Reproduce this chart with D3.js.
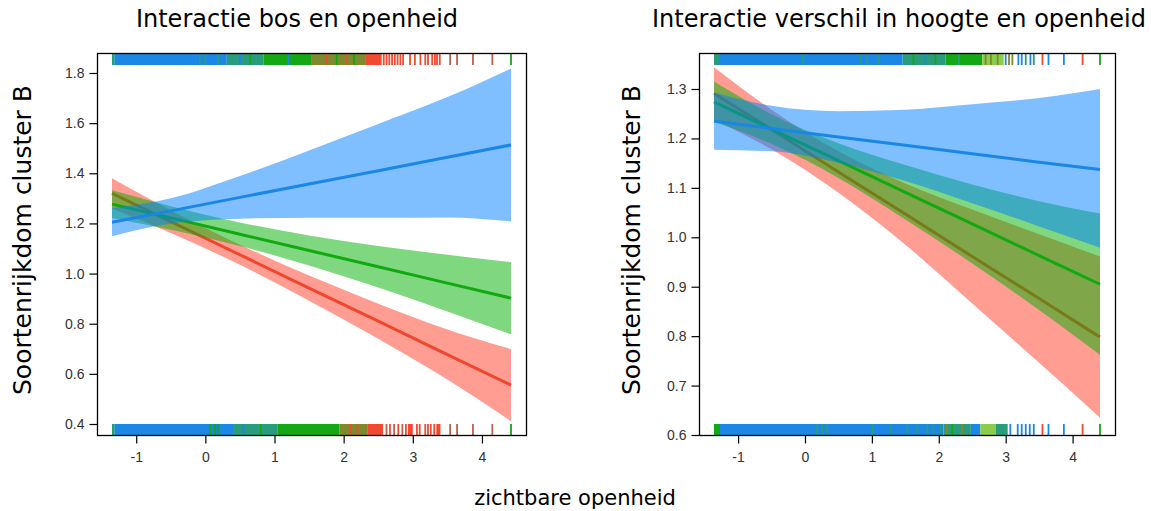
<!DOCTYPE html>
<html>
<head>
<meta charset="utf-8">
<script src="https://cdn.jsdelivr.net/npm/d3@7"></script>
<style>
  body { margin: 0; background: #fff; }
  svg { display: block; }
</style>
</head>
<body>
<svg id="chart" width="1151" height="511"></svg>
<script>
// ---- data: left panel, "Interactie bos en openheid" ----
var xsBos = [-1.35, -0.5, 0.5, 1.5, 2.5, 3.5, 4.42];
var bosRedFit   = [1.320, 1.207, 1.075, 0.942, 0.810, 0.677, 0.555];
var bosRedLo    = [1.260, 1.162, 1.035, 0.892, 0.740, 0.577, 0.411];
var bosRedHi    = [1.380, 1.252, 1.115, 0.992, 0.880, 0.777, 0.699];
var bosGreenFit = [1.277, 1.222, 1.157, 1.092, 1.027, 0.962, 0.902];
var bosGreenLo  = [1.222, 1.175, 1.110, 1.032, 0.944, 0.849, 0.758];
var bosGreenHi  = [1.332, 1.269, 1.204, 1.152, 1.110, 1.075, 1.046];
var bosBlueFit  = [1.205, 1.250, 1.304, 1.357, 1.410, 1.464, 1.513];
var bosBlueLo   = [1.149, 1.200, 1.219, 1.223, 1.223, 1.224, 1.208];
var bosBlueHi   = [1.261, 1.300, 1.389, 1.491, 1.597, 1.704, 1.818];

// ---- data: right panel, "Interactie verschil in hoogte en openheid" ----
var xsHoogte = [-1.36, -0.5, 0.5, 1.5, 2.5, 3.5, 4.41];
var hoogteRedFit   = [1.291, 1.218, 1.132, 1.047, 0.961, 0.876, 0.798];
var hoogteRedLo    = [1.238, 1.178, 1.090, 0.985, 0.866, 0.746, 0.635];
var hoogteRedHi    = [1.344, 1.258, 1.174, 1.109, 1.056, 1.006, 0.961];
var hoogteGreenFit = [1.274, 1.219, 1.155, 1.091, 1.027, 0.963, 0.905];
var hoogteGreenLo  = [1.233, 1.189, 1.120, 1.036, 0.947, 0.853, 0.762];
var hoogteGreenHi  = [1.315, 1.249, 1.190, 1.146, 1.107, 1.073, 1.048];
var hoogteBlueFit  = [1.235, 1.220, 1.203, 1.186, 1.169, 1.152, 1.137];
var hoogteBlueLo   = [1.177, 1.174, 1.151, 1.114, 1.069, 1.022, 0.979];
var hoogteBlueHi   = [1.293, 1.266, 1.255, 1.258, 1.269, 1.282, 1.300];

// ---- rugs: dense runs [from, to, colour] and single ticks [x, colour] ----
var bosRugTopRuns = [[-1.35,-1.31,"T"],[-1.31,0.31,"B"],[0.31,0.84,"T"],[0.84,1.54,"G"],[1.54,2.31,"O"],[2.31,2.55,"R"]];
var bosRugTopTicks = [[-0.08,"T"],[0.0,"T"],[0.185,"T"],[0.5,"B"],[0.65,"G"],[1.2,"B"],[1.75,"R"],[1.9,"G"],[2.05,"R"],[2.15,"G"],
  [2.58,"R"],[2.62,"R"],[2.66,"R"],[2.70,"R"],[2.74,"R"],[2.78,"R"],[2.82,"R"],[2.86,"R"],
  [2.96,"R"],[3.03,"R"],[3.11,"R"],[3.18,"R"],[3.22,"R"],[3.28,"R"],[3.32,"R"],[3.35,"R"],[3.39,"R"],
  [3.54,"K"],[3.64,"K"],[3.87,"K"],[4.15,"K"],[4.42,"G"]];
var bosRugBottomRuns = [[-1.35,-1.31,"T"],[-1.31,0.40,"B"],[0.40,1.04,"T"],[1.04,1.94,"G"],[1.94,2.34,"O"],[2.34,2.57,"R"],[2.93,3.0,"R"],[3.34,3.40,"R"]];
var bosRugBottomTicks = [[0.07,"G"],[0.14,"G"],[0.18,"G"],[0.55,"B"],[0.8,"G"],[2.1,"R"],[2.2,"R"],
  [2.62,"K"],[2.67,"R"],[2.73,"K"],[2.79,"R"],[2.85,"K"],[2.90,"R"],[3.06,"R"],[3.10,"R"],
  [3.18,"R"],[3.22,"K"],[3.26,"R"],[3.31,"R"],[3.54,"K"],[3.64,"K"],[3.87,"K"],[4.15,"K"],[4.42,"G"]];

var hoogteRugTopRuns = [[-1.36,-1.27,"T"],[-1.27,1.46,"B"],[1.46,2.10,"T"],[2.10,2.65,"G"],[2.65,2.97,"L"]];
var hoogteRugTopTicks = [[-0.03,"T"],[0.83,"T"],[0.93,"T"],[1.10,"T"],[1.62,"G"],[1.8,"B"],[1.95,"G"],[2.3,"T"],
  [2.70,"O"],[2.78,"O"],[2.88,"O"],[3.0,"B"],[3.05,"O"],[3.10,"O"],[3.19,"B"],[3.24,"B"],[3.30,"T"],[3.37,"B"],[3.42,"T"],
  [3.55,"R"],[3.64,"B"],[3.87,"B"],[4.15,"R"],[4.41,"G"]];
var hoogteRugBottomRuns = [[-1.36,-1.27,"G"],[-1.27,2.07,"B"],[2.07,2.48,"T"],[2.48,2.62,"B"],[2.62,2.85,"L"],[2.85,3.03,"T"]];
var hoogteRugBottomTicks = [[0.18,"T"],[0.26,"T"],[0.33,"T"],[1.01,"T"],[1.28,"T"],[1.53,"T"],[1.68,"T"],[1.83,"T"],[1.92,"T"],[2.03,"T"],
  [2.12,"O"],[2.2,"G"],[2.35,"O"],[3.07,"B"],[3.18,"B"],[3.24,"B"],[3.30,"B"],[3.36,"B"],[3.42,"B"],
  [3.55,"R"],[3.64,"B"],[3.87,"B"],[4.15,"R"],[4.41,"G"]];

// ---- tick labels ----
var xTickValues = [-1, 0, 1, 2, 3, 4];
var bosYTicks = [0.4, 0.6, 0.8, 1.0, 1.2, 1.4, 1.6, 1.8];
var hoogteYTicks = [0.6, 0.7, 0.8, 0.9, 1.0, 1.1, 1.2, 1.3];

var titles = ["Interactie bos en openheid", "Interactie verschil in hoogte en openheid"];
var yLabel = "Soortenrijkdom cluster B";
var xLabel = "zichtbare openheid";

var rugColors = {B: "#1a88e4", G: "#14a814", R: "#f04a30", T: "#2a9c7e", O: "#7d8a2e", L: "#8ccc4c", K: "#b8604a"};
var lineColors = {red: "#f0462e", green: "#10aa10", blue: "#1a86e6"};
var bandColors = {red: "#ff3c28", green: "#00b000", blue: "#0080ff"};

var svg = d3.select("#chart");

var panels = [
  {
    title: titles[0], titleX: 297, ylabX: 31,
    box: {x0: 97, x1: 526, y0: 53, y1: 435},
    xDomain: [xsBos[0], xsBos[xsBos.length - 1]], xRange: [112, 511],
    yDomain: [0.4, 1.8], yRange: [424, 73], yTicks: bosYTicks,
    xs: xsBos,
    series: [
      {key: "red", fit: bosRedFit, lo: bosRedLo, hi: bosRedHi},
      {key: "green", fit: bosGreenFit, lo: bosGreenLo, hi: bosGreenHi},
      {key: "blue", fit: bosBlueFit, lo: bosBlueLo, hi: bosBlueHi}
    ],
    rugTop: [bosRugTopRuns, bosRugTopTicks], rugBottom: [bosRugBottomRuns, bosRugBottomTicks]
  },
  {
    title: titles[1], titleX: 899, ylabX: 640,
    box: {x0: 699, x1: 1115, y0: 53, y1: 435},
    xDomain: [xsHoogte[0], xsHoogte[xsHoogte.length - 1]], xRange: [714, 1100],
    yDomain: [0.6, 1.3], yRange: [435, 89], yTicks: hoogteYTicks,
    xs: xsHoogte,
    series: [
      {key: "red", fit: hoogteRedFit, lo: hoogteRedLo, hi: hoogteRedHi},
      {key: "green", fit: hoogteGreenFit, lo: hoogteGreenLo, hi: hoogteGreenHi},
      {key: "blue", fit: hoogteBlueFit, lo: hoogteBlueLo, hi: hoogteBlueHi}
    ],
    rugTop: [hoogteRugTopRuns, hoogteRugTopTicks], rugBottom: [hoogteRugBottomRuns, hoogteRugBottomTicks]
  }
];

panels.forEach(drawPanel);

// shared x label
svg.append("text")
    .attr("x", 575)
    .attr("y", 505)
    .attr("text-anchor", "middle")
    .attr("font-family", "DejaVu Sans, Verdana, sans-serif")
    .attr("font-size", "21px")
    .attr("fill", "#000")
    .text(xLabel);

function drawPanel(p) {
  var g = svg.append("g");
  var b = p.box;

  var x = d3.scaleLinear().domain(p.xDomain).range(p.xRange);
  var y = d3.scaleLinear().domain(p.yDomain).range(p.yRange);

  var clipId = "clip" + b.x0;
  g.append("clipPath").attr("id", clipId)
    .append("rect")
      .attr("x", b.x0).attr("y", b.y0)
      .attr("width", b.x1 - b.x0).attr("height", b.y1 - b.y0);

  var plot = g.append("g").attr("clip-path", "url(#" + clipId + ")");

  var area = d3.area()
      .curve(d3.curveMonotoneX)
      .x(function(d) { return x(d.x); })
      .y0(function(d) { return y(d.lo); })
      .y1(function(d) { return y(d.hi); });

  var line = d3.line()
      .x(function(d) { return x(d.x); })
      .y(function(d) { return y(d.fit); });

  p.series.forEach(function(s) {
    var pts = p.xs.map(function(v, i) {
      return {x: v, fit: s.fit[i], lo: s.lo[i], hi: s.hi[i]};
    });
    plot.append("path")
        .datum(pts)
        .attr("d", area)
        .attr("fill", bandColors[s.key])
        .attr("fill-opacity", 0.5)
        .attr("stroke", "none");
    plot.append("path")
        .datum(pts)
        .attr("d", line)
        .attr("fill", "none")
        .attr("stroke", lineColors[s.key])
        .attr("stroke-width", 3);
  });

  // rugs
  drawRug(plot, x, p.rugTop, b.y0, b.y0 + 12);
  drawRug(plot, x, p.rugBottom, b.y1 - 11, b.y1);

  // frame
  g.append("rect")
      .attr("x", b.x0 + 0.5).attr("y", b.y0 + 0.5)
      .attr("width", b.x1 - b.x0).attr("height", b.y1 - b.y0)
      .attr("fill", "none")
      .attr("stroke", "#000")
      .attr("stroke-width", 1.3);

  // axes
  var xAxis = g.append("g")
      .attr("transform", "translate(0," + (b.y1 + 0.5) + ")")
      .call(d3.axisBottom(x).tickValues(xTickValues).tickSize(8).tickPadding(9)
        .tickFormat(function(d) { return String(d); }));
  var yAxis = g.append("g")
      .attr("transform", "translate(" + (b.x0 + 0.5) + ",0)")
      .call(d3.axisLeft(y).tickValues(p.yTicks).tickSize(8).tickPadding(5)
        .tickFormat(d3.format(".1f")));

  [xAxis, yAxis].forEach(function(a) {
    a.select(".domain").remove();
    a.selectAll("line").attr("stroke", "#000").attr("stroke-width", 1.2);
    a.selectAll("text")
        .attr("font-family", "Liberation Sans, Arial, sans-serif")
        .attr("font-size", "14px")
        .attr("fill", "#333");
  });

  // title
  svg.append("text")
      .attr("x", p.titleX)
      .attr("y", 27)
      .attr("text-anchor", "middle")
      .attr("font-family", "DejaVu Sans, Verdana, sans-serif")
      .attr("font-size", "24px")
      .attr("fill", "#000")
      .text(p.title);

  // y label
  svg.append("text")
      .attr("transform", "translate(" + p.ylabX + "," + 240 + ") rotate(-90)")
      .attr("text-anchor", "middle")
      .attr("font-family", "DejaVu Sans, Verdana, sans-serif")
      .attr("font-size", "25px")
      .attr("fill", "#000")
      .text(yLabel);
}

function drawRug(sel, x, rug, yTop, yBot) {
  var runs = rug[0], ticks = rug[1];
  sel.selectAll(null)
      .data(runs)
      .enter().append("rect")
      .attr("x", function(d) { return x(d[0]); })
      .attr("y", yTop)
      .attr("width", function(d) { return Math.max(1, x(d[1]) - x(d[0])); })
      .attr("height", yBot - yTop)
      .attr("fill", function(d) { return rugColors[d[2]]; });
  sel.selectAll(null)
      .data(ticks)
      .enter().append("line")
      .attr("x1", function(d) { return x(d[0]); })
      .attr("x2", function(d) { return x(d[0]); })
      .attr("y1", yTop)
      .attr("y2", yBot)
      .attr("stroke", function(d) { return rugColors[d[1]]; })
      .attr("stroke-width", 1.8);
}
</script>
</body>
</html>
